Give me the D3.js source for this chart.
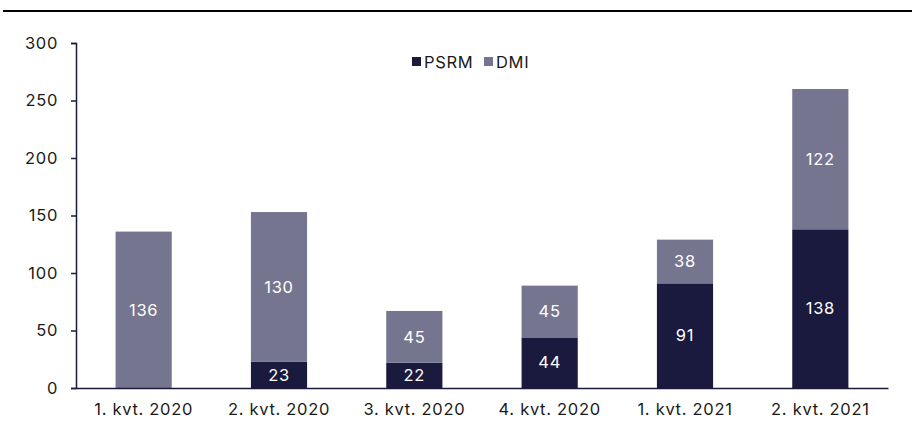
<!DOCTYPE html>
<html>
<head>
<meta charset="utf-8">
<script src="https://d3js.org/d3.v7.min.js"></script>
<style>
  body { margin: 0; background: #fff; }
  svg text { font-family: Inter, "Noto Sans", sans-serif; letter-spacing: 0.7px; }
</style>
</head>
<body>
<div id="chart"></div>
<script>
    const categories = ["1. kvt. 2020", "2. kvt. 2020", "3. kvt. 2020", "4. kvt. 2020", "1. kvt. 2021", "2. kvt. 2021"];
    const psrm = [0, 23, 22, 44, 91, 138];
    const dmi = [136, 130, 45, 45, 38, 122];
    const seriesNames = ["PSRM", "DMI"];
    const yTicks = [0, 50, 100, 150, 200, 250, 300];

    const colors = { PSRM: "#1a1a3f", DMI: "#757590" };
    const W = 915, H = 421;
    const margin = { left: 76, right: 27, top: 43, bottom: 33 };

    const svg = d3.select("#chart").append("svg")
        .attr("width", W).attr("height", H);

    // rule under the (cropped) title
    svg.append("line")
        .attr("x1", 3).attr("x2", 912)
        .attr("y1", 11).attr("y2", 11)
        .attr("stroke", "#000").attr("stroke-width", 2);

    const x = d3.scaleBand()
        .domain(categories)
        .range([margin.left, W - margin.right])
        .paddingInner(0.585).paddingOuter(0.2925);

    const y = d3.scaleLinear()
        .domain([0, 300])
        .range([H - margin.bottom, margin.top]);

    const rows = categories.map((c, i) => ({ cat: c, PSRM: psrm[i], DMI: dmi[i] }));
    const stacked = d3.stack().keys(seriesNames)(rows);

    const g = svg.append("g");
    stacked.forEach(layer => {
        const key = layer.key;
        const lg = g.append("g");
        lg.selectAll("rect")
            .data(layer.filter(d => d[1] - d[0] > 0))
            .join("rect")
            .attr("x", d => x(d.data.cat))
            .attr("width", x.bandwidth())
            .attr("y", d => y(d[1]))
            .attr("height", d => y(d[0]) - y(d[1]))
            .attr("fill", colors[key]);
        lg.selectAll("text")
            .data(layer.filter(d => d[1] - d[0] > 0))
            .join("text")
            .attr("x", d => x(d.data.cat) + x.bandwidth() / 2)
            .attr("y", d => y((d[0] + d[1]) / 2))
            .attr("dy", "0.35em")
            .attr("text-anchor", "middle")
            .attr("fill", "#fff")
            .attr("font-size", 16.5)
            .text(d => d[1] - d[0]);
    });

    // y axis
    const yAxis = svg.append("g")
        .attr("transform", `translate(${margin.left},0)`)
        .call(d3.axisLeft(y).tickValues(yTicks).tickSize(5).tickPadding(13));
    yAxis.select(".domain").attr("stroke", "#1a1a3f").attr("stroke-width", 1.5);
    yAxis.selectAll(".tick line").attr("stroke", "#1a1a3f").attr("stroke-width", 1.5);
    yAxis.selectAll("text").attr("font-size", 16.5).attr("fill", "#1a1a1a");

    // x axis
    const xAxis = svg.append("g")
        .attr("transform", `translate(0,${H - margin.bottom})`)
        .call(d3.axisBottom(x).tickSize(0).tickPadding(15));
    xAxis.select(".domain").attr("stroke", "#1a1a3f").attr("stroke-width", 1.5);
    xAxis.selectAll("text").attr("font-size", 16.5).attr("fill", "#1a1a1a");

    // legend
    const legend = svg.append("g").attr("transform", "translate(412,62)");
    const legendX = [0, 72];
    seriesNames.forEach((name, i) => {
        const lg = legend.append("g").attr("transform", `translate(${legendX[i]},0)`);
        lg.append("rect").attr("x", 0).attr("y", -5).attr("width", 9).attr("height", 9)
            .attr("fill", colors[name]);
        lg.append("text").attr("x", 12).attr("y", 0).attr("dy", "0.35em")
            .attr("font-size", 16.5).attr("fill", "#1a1a1a").text(name);
    });
</script>
</body>
</html>
